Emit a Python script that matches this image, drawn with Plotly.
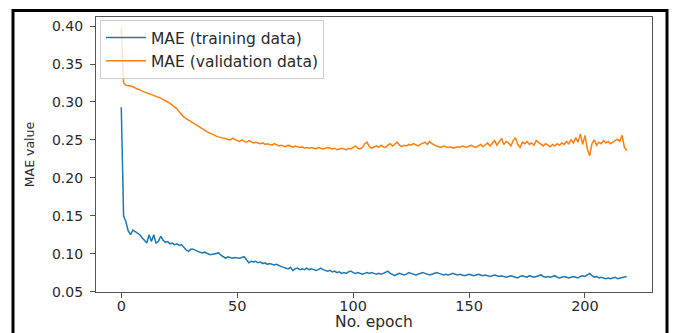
import plotly.graph_objects as go

epochs = list(range(219))

mae_train = [
    0.293, 0.150, 0.142, 0.130, 0.125, 0.131, 0.129, 0.127, 0.125, 0.121,
    0.117, 0.114, 0.125, 0.116, 0.125, 0.114, 0.116, 0.123, 0.118, 0.115,
    0.116, 0.113, 0.114, 0.112, 0.113, 0.111, 0.112, 0.108, 0.105, 0.103,
    0.106, 0.106, 0.104, 0.103, 0.102, 0.101, 0.102, 0.100, 0.099, 0.099,
    0.100, 0.100, 0.101, 0.098, 0.096, 0.094, 0.096, 0.095, 0.094, 0.095,
    0.094, 0.094, 0.095, 0.096, 0.092, 0.088, 0.090, 0.089, 0.090, 0.088,
    0.089, 0.087, 0.088, 0.086, 0.087, 0.086, 0.085, 0.086, 0.084, 0.083,
    0.082, 0.081, 0.080, 0.082, 0.078, 0.080, 0.081, 0.079, 0.080, 0.079,
    0.081, 0.079, 0.080, 0.079, 0.078, 0.079, 0.081, 0.079, 0.078, 0.077,
    0.078, 0.076, 0.077, 0.075, 0.076, 0.074, 0.075, 0.074, 0.076, 0.077,
    0.075, 0.074, 0.075, 0.074, 0.073, 0.074, 0.075, 0.074, 0.075, 0.074,
    0.073, 0.074, 0.073, 0.074, 0.076, 0.077, 0.074, 0.072, 0.071, 0.073,
    0.074, 0.073, 0.072, 0.073, 0.075, 0.074, 0.073, 0.072, 0.073, 0.074,
    0.075, 0.074, 0.073, 0.072, 0.073, 0.074, 0.075, 0.074, 0.073, 0.072,
    0.073, 0.072, 0.073, 0.074, 0.073, 0.072, 0.073, 0.072, 0.071, 0.072,
    0.073, 0.072, 0.071, 0.072, 0.073, 0.072, 0.071, 0.072, 0.071, 0.070,
    0.071, 0.072, 0.071, 0.070, 0.071, 0.070, 0.069, 0.070, 0.071, 0.070,
    0.069, 0.068, 0.070, 0.071, 0.070, 0.069, 0.071, 0.070, 0.069, 0.070,
    0.071, 0.072, 0.070, 0.069, 0.070, 0.069, 0.070, 0.071, 0.069, 0.068,
    0.069, 0.070, 0.069, 0.068, 0.069, 0.070, 0.069, 0.068, 0.070, 0.071,
    0.070, 0.072, 0.074, 0.071, 0.069, 0.070, 0.068, 0.069, 0.068, 0.067,
    0.068, 0.067, 0.068, 0.069, 0.067, 0.068, 0.069, 0.069, 0.070,
]

mae_val = [
    0.398, 0.325, 0.322, 0.322, 0.321, 0.320, 0.318, 0.317, 0.316, 0.314,
    0.313, 0.312, 0.311, 0.310, 0.309, 0.307, 0.306, 0.305, 0.303, 0.302,
    0.300, 0.298, 0.296, 0.294, 0.291, 0.287, 0.283, 0.280, 0.278, 0.276,
    0.274, 0.272, 0.270, 0.268, 0.266, 0.264, 0.262, 0.261, 0.259, 0.258,
    0.256, 0.255, 0.254, 0.253, 0.253, 0.252, 0.251, 0.250, 0.252, 0.250,
    0.249, 0.248, 0.250, 0.248, 0.247, 0.249, 0.248, 0.246, 0.247, 0.246,
    0.245, 0.246, 0.244, 0.245, 0.244, 0.243, 0.245, 0.243, 0.242, 0.243,
    0.242, 0.241, 0.243, 0.241, 0.240, 0.242, 0.241, 0.240, 0.241, 0.239,
    0.240, 0.239, 0.240, 0.239, 0.238, 0.240, 0.239, 0.238, 0.239, 0.240,
    0.239, 0.238, 0.239, 0.237, 0.238, 0.239, 0.238, 0.237, 0.239, 0.238,
    0.240, 0.242, 0.239, 0.238, 0.240, 0.245, 0.247, 0.241, 0.239, 0.240,
    0.242, 0.240, 0.243, 0.241, 0.240, 0.243, 0.245, 0.242, 0.244, 0.247,
    0.243, 0.241, 0.243, 0.242, 0.244, 0.243, 0.245, 0.244, 0.242, 0.244,
    0.246, 0.247, 0.244, 0.248, 0.245, 0.243, 0.242, 0.241, 0.240, 0.242,
    0.241, 0.240, 0.241, 0.239, 0.240, 0.241, 0.240, 0.242, 0.241, 0.240,
    0.242, 0.243, 0.241, 0.240, 0.242, 0.244, 0.241, 0.243, 0.246, 0.242,
    0.245, 0.249, 0.243, 0.247, 0.252, 0.244, 0.248, 0.246, 0.242, 0.249,
    0.253, 0.244, 0.240, 0.247, 0.245, 0.248, 0.244, 0.246, 0.243, 0.249,
    0.247, 0.244, 0.242, 0.245, 0.243, 0.241, 0.244, 0.242, 0.245, 0.243,
    0.246, 0.244, 0.248, 0.245, 0.250, 0.246, 0.253, 0.247, 0.258, 0.244,
    0.256, 0.238, 0.229, 0.245, 0.250, 0.243, 0.247, 0.245, 0.249, 0.246,
    0.248, 0.245, 0.247, 0.249, 0.251, 0.248, 0.256, 0.240, 0.236,
]

x_ticks = [0, 50, 100, 150, 200]
y_ticks = [0.05, 0.10, 0.15, 0.20, 0.25, 0.30, 0.35, 0.40]
y_tick_text = ["0.05", "0.10", "0.15", "0.20", "0.25", "0.30", "0.35", "0.40"]

FONT = "DejaVu Sans"

fig = go.Figure()
fig.add_trace(go.Scatter(x=epochs, y=mae_train, mode="lines",
                         name="MAE (training data)",
                         line=dict(color="#1f77b4", width=1.5)))
fig.add_trace(go.Scatter(x=epochs, y=mae_val, mode="lines",
                         name="MAE (validation data)",
                         line=dict(color="#ff7f0e", width=1.5)))

L, R, T, B = 96, 23, 17, 41
W, H = 675, 333
pw, ph = W - L - R, H - T - B

def px_x(px):
    return (px - L) / pw

def px_y(py):
    return 1 - (py - T) / ph

fig.update_layout(
    width=W, height=H,
    margin=dict(l=L, r=R, t=T, b=B, pad=0, autoexpand=False),
    paper_bgcolor="white", plot_bgcolor="white",
    font=dict(family=FONT, color="#2a2a2a", size=14),
    showlegend=True,
    legend=dict(
        x=px_x(100), y=px_y(20), xanchor="left", yanchor="top",
        bgcolor="rgba(255,255,255,0.8)", bordercolor="#cccccc", borderwidth=1,
        font=dict(family=FONT, size=15.5, color="#2a2a2a"),
        itemwidth=40, tracegroupgap=0,
    ),
    xaxis=dict(
        range=[-10.9, 228.9], tickvals=x_ticks, ticks="outside", ticklen=5,
        tickcolor="#555555", showline=True, linecolor="#555555", linewidth=1.2,
        mirror=True, showgrid=False, zeroline=False,
        tickfont=dict(size=14.5),
        title=dict(text="No. epoch", font=dict(size=15.5), standoff=3),
    ),
    yaxis=dict(
        range=[0.0495, 0.412], tickvals=y_ticks, ticktext=y_tick_text,
        ticks="outside", ticklen=5, tickcolor="#555555", showline=True,
        linecolor="#555555", linewidth=1.2, mirror=True, showgrid=False,
        zeroline=False, tickfont=dict(size=14), ticklabelstandoff=4,
        title=dict(text="MAE value", font=dict(size=12.5), standoff=14),
    ),
    shapes=[dict(
        type="rect", xref="paper", yref="paper",
        x0=px_x(13), x1=px_x(667), y0=px_y(345), y1=px_y(10.5),
        line=dict(color="black", width=3), fillcolor="rgba(0,0,0,0)",
        layer="above",
    )],
)

try:
    fig.update_xaxes(ticklabelstandoff=-5)
except ValueError:
    pass

fig.write_html("out.html")
